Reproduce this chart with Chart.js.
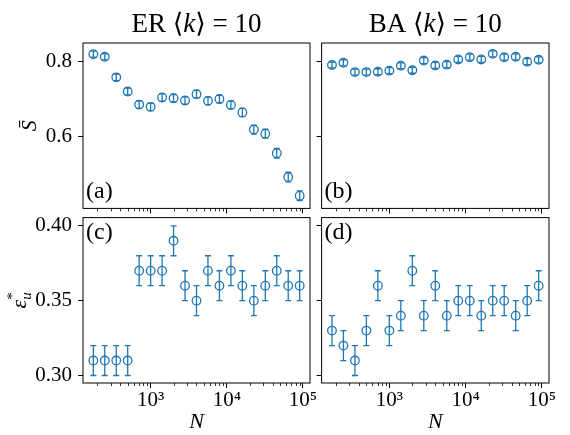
<!DOCTYPE html>
<html lang="en">
<head>
<meta charset="UTF-8">
<title>Mean S and critical epsilon against N</title>
<script src="https://cdn.jsdelivr.net/npm/chart.js@4.4.0/dist/chart.umd.min.js"></script>
<style>
  body { margin: 0; background: #fff; }
  #wrap { position: relative; width: 570px; height: 435px; }
  canvas { position: absolute; }
</style>
</head>
<body>
<div id="wrap">
  <canvas id="panelA" width="322" height="214" style="left:0;top:0"></canvas>
  <canvas id="panelB" width="254" height="214" style="left:316px;top:0"></canvas>
  <canvas id="panelC" width="322" height="223" style="left:0;top:212px"></canvas>
  <canvas id="panelD" width="254" height="223" style="left:316px;top:212px"></canvas>
</div>
<script>
const SERIF = "'Liberation Serif', 'DejaVu Serif', serif";
const BLUE = '#1f77b4';

// network sizes (factor sqrt(2) apart)
const sizes = [177, 250, 354, 500, 707, 1000, 1414, 2000, 2828, 4000, 5657, 8000, 11314, 16000, 22627, 32000, 45255, 64000, 90510];

// mean S
const erS = [0.820, 0.813, 0.758, 0.720, 0.685, 0.679, 0.704, 0.702, 0.696, 0.713, 0.695, 0.700, 0.684, 0.664, 0.618, 0.607, 0.555, 0.491, 0.441];
const erSErr = [0.008, 0.008, 0.009, 0.009, 0.010, 0.010, 0.010, 0.010, 0.010, 0.010, 0.010, 0.010, 0.010, 0.011, 0.012, 0.012, 0.013, 0.013, 0.013];
const baS = [0.791, 0.797, 0.772, 0.772, 0.773, 0.776, 0.789, 0.777, 0.803, 0.790, 0.792, 0.806, 0.812, 0.806, 0.821, 0.812, 0.813, 0.800, 0.805];
const baSErr = [0.008, 0.008, 0.008, 0.008, 0.008, 0.008, 0.008, 0.008, 0.008, 0.008, 0.008, 0.008, 0.008, 0.008, 0.008, 0.008, 0.008, 0.008, 0.008];

// epsilon_u*
const erEps = [0.31, 0.31, 0.31, 0.31, 0.37, 0.37, 0.37, 0.39, 0.36, 0.35, 0.37, 0.36, 0.37, 0.36, 0.35, 0.36, 0.37, 0.36, 0.36];
const baEps = [0.33, 0.32, 0.31, 0.33, 0.36, 0.33, 0.34, 0.37, 0.34, 0.36, 0.34, 0.35, 0.35, 0.34, 0.35, 0.35, 0.34, 0.35, 0.36];
const epsErr = [0.01, 0.01, 0.01, 0.01, 0.01, 0.01, 0.01, 0.01, 0.01, 0.01, 0.01, 0.01, 0.01, 0.01, 0.01, 0.01, 0.01, 0.01, 0.01];

// axes
const xMin = 129.5, xMax = 123600;
const xTicks = [1e3, 1e4, 1e5];
const xTickLabels = ['10\u00b3', '10\u2074', '10\u2075'];
const xMinorTicks = [200, 300, 400, 500, 600, 700, 800, 900, 2000, 3000, 4000, 5000, 6000, 7000, 8000, 9000,
  20000, 30000, 40000, 50000, 60000, 70000, 80000, 90000];
const sRange = [0.407, 0.850];
const sTicks = [0.6, 0.8];
const sTickLabels = ['0.6', '0.8'];
const epsRange = [0.295, 0.4055];
const epsTicks = [0.30, 0.35, 0.40];
const epsTickLabels = ['0.30', '0.35', '0.40'];

const font = (size, italic) => (italic ? 'italic ' : '') + size + 'px ' + SERIF;

// draw text runs centred on x, with y as baseline
function drawRuns(ctx, runs, x, y) {
  const widths = runs.map(r => {
    ctx.font = r.font;
    return r.advance !== undefined ? r.advance : ctx.measureText(r.text).width;
  });
  let cx = x - widths.reduce((a, b) => a + b, 0) / 2;
  runs.forEach((r, i) => {
    ctx.font = r.font;
    ctx.fillText(r.text, cx, y + (r.dy || 0));
    cx += widths[i];
  });
}

const errorBars = {
  id: 'errorBars',
  beforeDatasetsDraw(chart) {
    const { ctx, scales: { x, y } } = chart;
    chart.data.datasets.forEach(ds => {
      ctx.save();
      ctx.strokeStyle = ds.borderColor;
      ctx.lineWidth = 1.3;
      ctx.beginPath();
      ds.data.forEach((p, i) => {
        const px = x.getPixelForValue(p.x);
        const top = y.getPixelForValue(p.y + ds.yErr[i]);
        const bot = y.getPixelForValue(p.y - ds.yErr[i]);
        ctx.moveTo(px, top); ctx.lineTo(px, bot);
        ctx.moveTo(px - 3, top); ctx.lineTo(px + 3, top);
        ctx.moveTo(px - 3, bot); ctx.lineTo(px + 3, bot);
      });
      ctx.stroke();
      ctx.restore();
    });
  }
};

// box around the plot area plus minor log ticks
const frame = {
  id: 'frame',
  afterDraw(chart) {
    const { ctx, chartArea: a, scales: { x } } = chart;
    ctx.save();
    ctx.strokeStyle = '#000';
    ctx.lineWidth = 1;
    ctx.strokeRect(a.left, a.top, a.right - a.left, a.bottom - a.top);
    ctx.lineWidth = 0.8;
    ctx.beginPath();
    xMinorTicks.forEach(v => {
      const px = Math.round(x.getPixelForValue(v)) + 0.5;
      ctx.moveTo(px, a.bottom);
      ctx.lineTo(px, a.bottom + 3);
    });
    ctx.stroke();
    ctx.restore();
  }
};

const panelText = {
  id: 'panelText',
  afterDraw(chart, args, o) {
    const { ctx, chartArea: a } = chart;
    ctx.save();
    ctx.fillStyle = '#000';
    ctx.textAlign = 'left';
    ctx.textBaseline = 'alphabetic';
    if (o.title) drawRuns(ctx, o.title, (a.left + a.right) / 2, a.top - 11);
    if (o.letter) {
      ctx.font = font(24);
      ctx.fillText(o.letter, a.left + 3, o.letterTop ? a.top + 21 : a.bottom - 10);
    }
    if (o.yLabel) {
      ctx.translate(a.left - o.yLabelGap, (a.top + a.bottom) / 2);
      ctx.rotate(-Math.PI / 2);
      drawRuns(ctx, o.yLabel, 0, 0);
    }
    ctx.restore();
  }
};

const titleRuns = name => [
  { text: name + ' \u27e8', font: font(27) },
  { text: 'k', font: font(27, true) },
  { text: '\u27e9 = 10', font: font(27) }
];

function panel(id, values, errors, yRange, yTicks, yTickLabels, opts) {
  return new Chart(document.getElementById(id), {
    type: 'scatter',
    data: {
      datasets: [{
        data: sizes.map((n, i) => ({ x: n, y: values[i] })),
        yErr: errors,
        borderColor: BLUE,
        backgroundColor: 'rgba(0,0,0,0)',
        pointRadius: 4.3,
        pointHoverRadius: 4.3,
        borderWidth: 1.3
      }]
    },
    options: {
      responsive: false,
      animation: false,
      devicePixelRatio: 1,
      events: [],
      layout: { padding: opts.padding },
      plugins: {
        legend: { display: false },
        tooltip: { enabled: false },
        panelText: opts.text
      },
      scales: {
        x: {
          type: 'logarithmic',
          min: xMin,
          max: xMax,
          border: { display: false },
          grid: { drawOnChartArea: false, color: '#000', tickLength: 5 },
          ticks: {
            display: opts.xLabels,
            color: '#000',
            font: { family: SERIF, size: 21 },
            padding: 0,
            maxRotation: 0,
            autoSkip: false,
            callback: (v, i) => xTickLabels[i]
          },
          title: {
            display: opts.xLabels,
            text: 'N',
            color: '#000',
            font: { family: SERIF, size: 22, style: 'italic' },
            padding: { top: 0, bottom: 0 }
          },
          afterBuildTicks: s => { s.ticks = xTicks.map(v => ({ value: v })); },
          afterFit: s => { s.height = opts.xHeight; s.paddingLeft = 0; s.paddingRight = 0; }
        },
        y: {
          type: 'linear',
          min: yRange[0],
          max: yRange[1],
          border: { display: false },
          grid: { drawOnChartArea: false, color: '#000', tickLength: 5 },
          ticks: {
            display: opts.yLabels,
            color: '#000',
            font: { family: SERIF, size: 21 },
            padding: 6,
            callback: (v, i) => yTickLabels[i]
          },
          afterBuildTicks: s => { s.ticks = yTicks.map(v => ({ value: v })); },
          afterFit: s => { s.width = opts.yWidth; s.paddingTop = 0; s.paddingBottom = 0; }
        }
      }
    },
    plugins: [errorBars, frame, panelText]
  });
}

const sLabel = [{ text: 'S\u0304', font: font(22, true) }];
const epsLabel = [
  { text: '\u03b5', font: font(22, true) },
  { text: '*', font: font(15), dy: -9, advance: 0 },
  { text: 'u', font: font(15, true), dy: 5 }
];

panel('panelA', erS, erSErr, sRange, sTicks, sTickLabels, {
  padding: { left: 0, top: 43, right: 12, bottom: 0 },
  xHeight: 5, yWidth: 83, xLabels: false, yLabels: true,
  text: { title: titleRuns('ER'), letter: '(a)', yLabel: sLabel, yLabelGap: 47 }
});
panel('panelB', baS, baSErr, sRange, sTicks, sTickLabels, {
  padding: { left: 0, top: 43, right: 21, bottom: 0 },
  xHeight: 5, yWidth: 5, xLabels: false, yLabels: false,
  text: { title: titleRuns('BA'), letter: '(b)' }
});
panel('panelC', erEps, epsErr, epsRange, epsTicks, epsTickLabels, {
  padding: { left: 0, top: 5, right: 12, bottom: 0 },
  xHeight: 52, yWidth: 83, xLabels: true, yLabels: true,
  text: { letter: '(c)', letterTop: true, yLabel: epsLabel, yLabelGap: 57 }
});
panel('panelD', baEps, epsErr, epsRange, epsTicks, epsTickLabels, {
  padding: { left: 0, top: 5, right: 21, bottom: 0 },
  xHeight: 52, yWidth: 5, xLabels: true, yLabels: false,
  text: { letter: '(d)', letterTop: true }
});
</script>
</body>
</html>
